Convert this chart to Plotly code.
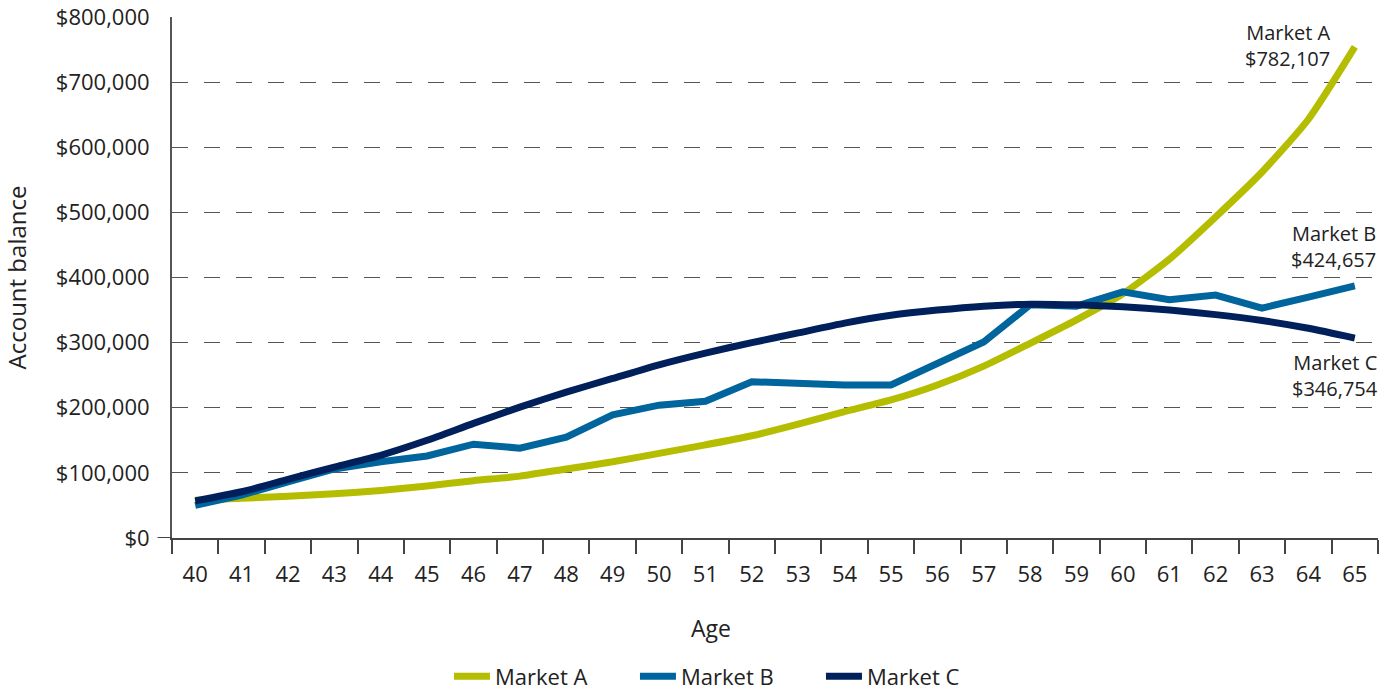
import plotly.graph_objects as go

ages = [str(a) for a in range(40, 66)]
market_a = [58000, 61000, 64000, 68000, 73000, 80000, 88000, 95000, 106000, 117000,
            130000, 143000, 157000, 175000, 194000, 212000, 235000, 264000, 299000, 335000,
            375000, 428000, 493000, 562000, 643000, 754000]
market_b = [50000, 66000, 86000, 106000, 117000, 126000, 144000, 138000, 155000, 189000,
            204000, 210000, 240000, 237000, 235000, 235000, 268000, 301000, 358000, 356000,
            378000, 366000, 373000, 353000, 370000, 387000]
market_c = [57000, 71000, 90000, 109000, 127000, 150000, 176000, 201000, 224000, 245000,
            266000, 284000, 300000, 315000, 330000, 342000, 350000, 356000, 359000, 358000,
            355000, 350000, 343000, 334000, 322000, 307000]
y_ticks = [0, 100000, 200000, 300000, 400000, 500000, 600000, 700000, 800000]
y_labels = ["$0", "$100,000", "$200,000", "$300,000", "$400,000",
            "$500,000", "$600,000", "$700,000", "$800,000"]
end_labels = ["Market A<br>$782,107", "Market B<br>$424,657", "Market C<br>$346,754"]

FONT = "Open Sans"
TXT = "#222222"

fig = go.Figure()
fig.add_trace(go.Scatter(x=ages, y=market_a, name="Market A", mode="lines",
                         line=dict(color="#b5bd00", width=7, shape="spline", smoothing=0.6)))
fig.add_trace(go.Scatter(x=ages, y=market_b, name="Market B", mode="lines",
                         line=dict(color="#00649d", width=7)))
fig.add_trace(go.Scatter(x=ages, y=market_c, name="Market C", mode="lines",
                         line=dict(color="#00205b", width=7, shape="spline", smoothing=0.6)))

fig.update_layout(
    width=1392, height=693,
    margin=dict(l=172, r=14, t=17, b=155, autoexpand=False),
    plot_bgcolor="white", paper_bgcolor="white",
    font=dict(family=FONT, size=22, color=TXT),
    showlegend=True,
    legend=dict(orientation="h", x=0.461, xanchor="center",
                yref="container", y=0.024, yanchor="middle",
                font=dict(size=22, color=TXT), itemwidth=36, traceorder="normal",
                entrywidth=135),
    xaxis=dict(
        type="category", range=[-0.5, 25.5],
        showline=True, linecolor="#444444", linewidth=2,
        ticks="outside", tickson="boundaries", ticklen=14, tickcolor="#444444", tickwidth=1.5,
        ticklabelstandoff=16,
        showgrid=False, tickfont=dict(size=22, color=TXT),
    ),
    yaxis=dict(
        range=[0, 800000], tickvals=y_ticks, ticktext=y_labels,
        showline=True, linecolor="#555555", linewidth=2,
        showgrid=True, gridcolor="#555555", gridwidth=1, griddash="16px,16px",
        ticks="", ticklabelstandoff=16, zeroline=False,
        tickfont=dict(size=22, color=TXT),
        title=dict(text="Account balance", font=dict(size=24, color=TXT), standoff=24),
    ),
)

fig.add_annotation(text="Age", xref="paper", yref="paper", x=0.447, y=-0.173,
                   showarrow=False, font=dict(size=23, color=TXT), yanchor="middle")

ann_x = [0.963, 1.0, 1.002]
ann_y = [756000, 448000, 250000]
for t, xx, yy in zip(end_labels, ann_x, ann_y):
    fig.add_annotation(text=t, xref="paper", yref="y", x=xx, y=yy, xanchor="right",
                       yanchor="middle", align="right", showarrow=False,
                       font=dict(size=20, color=TXT))

fig.add_shape(type="line", xref="paper", yref="y", x0=-0.012, x1=0, y0=0, y1=0,
              line=dict(color="#444444", width=2))

fig.write_html("out.html")
